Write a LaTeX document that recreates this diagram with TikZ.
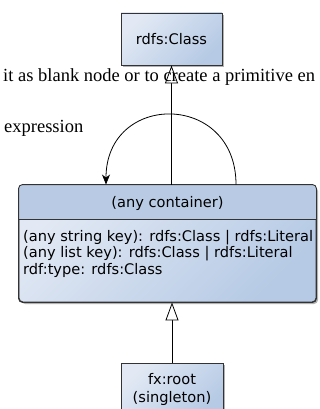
\documentclass[tikz,border=0pt]{standalone}
\usepackage{fontspec}
\newfontfamily\umlfont{DejaVu Sans}
\newfontfamily\seriffont{Liberation Serif}
\usetikzlibrary{arrows.meta,shadows}
\definecolor{boxlight}{HTML}{E2E9F4}
\definecolor{boxdark}{HTML}{B6CAE5}
\definecolor{hdrcol}{HTML}{B9CBE4}
\definecolor{edgecol}{HTML}{333333}
\tikzset{
  umlbox/.style={draw=edgecol, line width=0.9pt, shading=axis, top color=boxlight, bottom color=boxdark, shading angle=45,
    drop shadow={shadow xshift=2pt, shadow yshift=-2pt, fill=black, opacity=0.3}, inner sep=0pt},
  umltext/.style={font=\umlfont\fontsize{14.6}{18}\selectfont, inner sep=0pt, text=black},
  bodyline/.style={umltext, anchor=base west},
  serif/.style={font=\seriffont\fontsize{18.5}{21}\selectfont, inner sep=0pt, anchor=base west},
  gen/.style={draw=black, line width=0.8pt, -{Triangle[length=18pt,width=13pt,fill=white]}},
  loopline/.style={draw=black, line width=0.8pt, -{Stealth[length=10pt,width=8pt,inset=3pt]}}
}
\begin{document}
\begin{tikzpicture}[x=1pt,y=-1pt]
\useasboundingbox (0,0) rectangle (320,409);
\clip (0,0) rectangle (320,409);
% container
\node[umlbox, rounded corners=4pt, minimum width=297pt, minimum height=117pt] (cont) at (167.5,243.5) {};
\coordinate (hdrL) at (19,219);
\coordinate (hdrR) at (316,219);
\fill[hdrcol] (hdrL) [rounded corners=4pt] -- (cont.north west) -- (cont.north east) [sharp corners] -- (hdrR) -- cycle;
\draw[edgecol, line width=0.9pt, rounded corners=4pt] (cont.south west) rectangle (cont.north east);
\draw[edgecol, line width=0.9pt] (hdrL) -- (hdrR);
\node[umltext] (hdrtext) at (167.5,203) {(any container)};
\node[bodyline] (b1) at (23,241) {(any string key): rdfs:Class | rdfs:Literal};
\node[bodyline] (b2) at (23,257.5) {(any list key): rdfs:Class | rdfs:Literal};
\node[bodyline] (b3) at (23,274) {rdf:type: rdfs:Class};
% top class
\node[umlbox, minimum width=101pt, minimum height=52pt] (cls) at (171.5,39) {};
\node[umltext] (clstext) at (cls.center) {rdfs:Class};
% root
\node[umlbox, minimum width=102pt, minimum height=52pt] (root) at (172,389) {};
\node[umltext, align=center] (roottext) at (root.center) {fx:root\\(singleton)};
% connectors
\draw[gen] (cls.south |- cont.north) -- (cls.south);
\draw[gen] (root.north) -- (root.north |- cont.south);
\draw[loopline] ([xshift=68.5pt]cont.north) .. controls +(0pt,93pt) and +(0pt,93pt) .. ([xshift=-61.5pt]cont.north);
% serif texts
\node[serif] (t1) at (3,82) {it as blank node or to create a primitive en};
\node[serif] (t2) at (4,132) {expression};
\end{tikzpicture}
\end{document}
